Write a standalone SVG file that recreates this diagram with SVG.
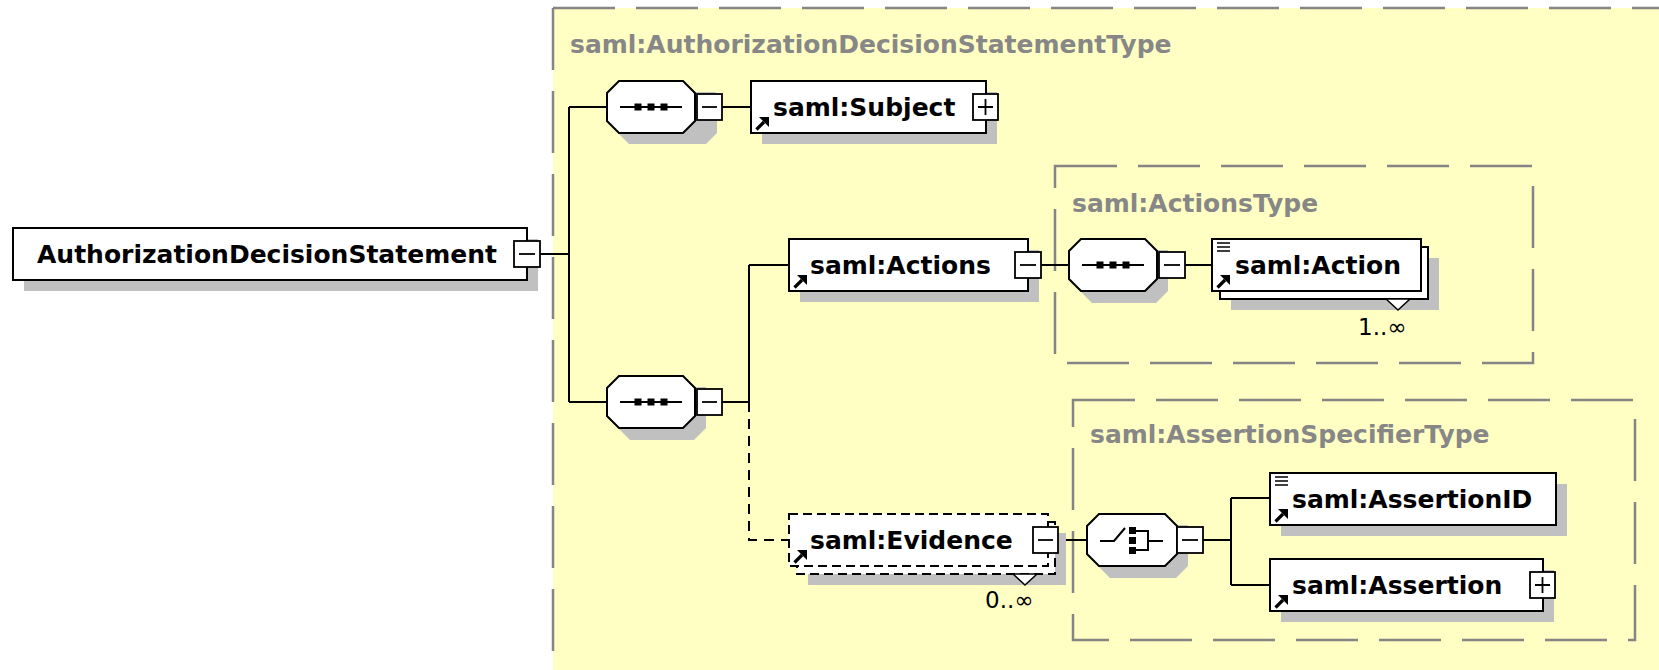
<svg xmlns="http://www.w3.org/2000/svg" width="1659" height="670" viewBox="0 0 1659 670">
<defs>
<style>
.bg{fill:#FFFFC4}
.type{fill:none;stroke:#858585;stroke-width:2.5;stroke-dasharray:62 21}
.title{font-family:"DejaVu Sans",Verdana,sans-serif;font-weight:bold;font-size:25px;fill:#878787}
.lbl{font-family:"DejaVu Sans",Verdana,sans-serif;font-weight:bold;font-size:25px;fill:#000}
.card{font-family:"DejaVu Sans",Verdana,sans-serif;font-size:23px;fill:#000}
.box{fill:#fff;stroke:#000;stroke-width:2}
.dbox{fill:#fff;stroke:#000;stroke-width:2;stroke-dasharray:9 5}
.shadow{fill:#C0C0C0}
.pm{fill:#fff;stroke:#000;stroke-width:1.8}
.ln{fill:none;stroke:#000;stroke-width:1.8}
.conn{fill:none;stroke:#000;stroke-width:2}
.dconn{fill:none;stroke:#000;stroke-width:2;stroke-dasharray:10 7}
.ico{fill:none;stroke:#000;stroke-width:3.2}
</style>
<g id="refArrow">
<path d="M1.5,13.5 L9,6" class="ico"/>
<polygon points="4,1 14,1 14,11" fill="#000"/>
</g>
<g id="simple">
<path d="M0,1 H13 M0,5 H13 M0,9 H13" fill="none" stroke="#000" stroke-width="1.5"/>
</g>
<g id="seqIcon">
<path d="M-31,0 H31" class="conn"/>
<rect x="-16.5" y="-3.5" width="7" height="7" fill="#000"/>
<rect x="-3.5" y="-3.5" width="7" height="7" fill="#000"/>
<rect x="9.5" y="-3.5" width="7" height="7" fill="#000"/>
</g>
</defs>

<rect x="0" y="0" width="1659" height="670" fill="#fff"/>

<g id="type-AuthorizationDecisionStatementType">
<rect x="553" y="8" width="1200" height="700" class="bg"/>
<path d="M553,8 H1659 M553,8 V670" class="type"/>
<text x="570" y="53" class="title">saml:AuthorizationDecisionStatementType</text>
</g>

<g id="type-ActionsType">
<rect x="1055" y="166" width="478" height="197" class="type"/>
<text x="1072" y="212" class="title">saml:ActionsType</text>
</g>

<g id="type-AssertionSpecifierType">
<rect x="1073" y="400" width="562" height="240" class="type"/>
<text x="1090" y="443" class="title">saml:AssertionSpecifierType</text>
</g>

<g id="connectors">
<path d="M540,254 H569 M569,107 V402 M569,107 H607 M569,402 H607" class="conn"/>
<path d="M722,107 H751" class="conn"/>
<path d="M722,402 H749 M749,265 V402 M749,265 H789" class="conn"/>
<path d="M749,402 V540 H789" class="dconn"/>
<path d="M1041,265 H1069" class="conn"/>
<path d="M1185,265 H1212" class="conn"/>
<path d="M1058,540 H1087" class="conn"/>
<path d="M1203,540 H1231 M1231,498 V585 M1231,498 H1270 M1231,585 H1270" class="conn"/>
</g>

<g id="n-AuthorizationDecisionStatement">
<rect x="24" y="239" width="514" height="52" class="shadow"/>
<rect x="13" y="228" width="514" height="52" class="box"/>
<text x="37" y="263" class="lbl">AuthorizationDecisionStatement</text>
<rect x="514" y="241" width="26" height="26" class="pm"/>
<path d="M519,254 H535" class="ln"/>
</g>

<g id="seq-1">
<path d="M630,92 H715 L717,94 L717,133 L706,144 L629,144 L618,133 L618,103 Z" class="shadow"/>
<path d="M619,81 H683 L695,93 V121 L683,133 H619 L607,121 V93 Z" class="box"/>
<use href="#seqIcon" x="651" y="107"/>
<rect x="697" y="94" width="25" height="26" class="pm"/>
<path d="M702,107 H717" class="ln"/>
</g>

<g id="n-Subject">
<rect x="762" y="92" width="235" height="52" class="shadow"/>
<rect x="751" y="81" width="235" height="52" class="box"/>
<use href="#refArrow" x="755" y="116"/>
<text x="773" y="116" class="lbl">saml:Subject</text>
<rect x="973" y="94" width="25" height="26" class="pm"/>
<path d="M978,107 H993 M985.5,99 V115" class="ln"/>
</g>

<g id="seq-2">
<path d="M630,387 H706 L706,387 L706,428 L694,440 L630,440 L618,428 L618,399 Z" class="shadow"/>
<path d="M619,376 H683 L695,388 V416 L683,428 H619 L607,416 V388 Z" class="box"/>
<use href="#seqIcon" x="651" y="402"/>
<rect x="697" y="389" width="25" height="26" class="pm"/>
<path d="M702,402 H717" class="ln"/>
</g>

<g id="n-Actions">
<rect x="800" y="250" width="239" height="52" class="shadow"/>
<rect x="789" y="239" width="239" height="52" class="box"/>
<use href="#refArrow" x="793" y="274"/>
<text x="810" y="274" class="lbl">saml:Actions</text>
<rect x="1015" y="252" width="26" height="26" class="pm"/>
<path d="M1020,265 H1036" class="ln"/>
</g>

<g id="seq-3">
<path d="M1092,250 H1168 V291 L1156,303 L1092,303 L1080,291 L1080,262 Z" class="shadow"/>
<path d="M1081,239 H1145 L1157,251 V279 L1145,291 H1081 L1069,279 V251 Z" class="box"/>
<use href="#seqIcon" x="1113" y="265"/>
<rect x="1159" y="252" width="26" height="26" class="pm"/>
<path d="M1164,265 H1180" class="ln"/>
</g>

<g id="n-Action">
<rect x="1231" y="258" width="208" height="52" class="shadow"/>
<rect x="1220" y="247" width="208" height="52" class="box"/>
<polygon points="1386,299 1398,310 1410,299" fill="#fff" stroke="#000" stroke-width="1.5"/>
<rect x="1212" y="239" width="209" height="52" class="box"/>
<use href="#simple" x="1217" y="242"/>
<use href="#refArrow" x="1216" y="274"/>
<text x="1235" y="274" class="lbl">saml:Action</text>
<text x="1358" y="335" class="card">1..∞</text>
</g>

<g id="n-Evidence">
<rect x="808" y="533" width="258" height="52" class="shadow"/>
<rect x="797" y="522" width="258" height="52" class="dbox"/>
<polygon points="1013,574 1025,585 1037,574" fill="#fff" stroke="#000" stroke-width="1.5"/>
<rect x="789" y="514" width="259" height="52" class="dbox"/>
<use href="#refArrow" x="793" y="549"/>
<text x="810" y="549" class="lbl">saml:Evidence</text>
<rect x="1033" y="527" width="25" height="26" class="pm"/>
<path d="M1038,540 H1053" class="ln"/>
<text x="985" y="608" class="card">0..∞</text>
</g>

<g id="choice-1">
<path d="M1110,525 H1188 V566 L1176,578 L1110,578 L1098,566 L1098,537 Z" class="shadow"/>
<path d="M1099,514 H1165 L1177,526 V554 L1165,566 H1099 L1087,554 V526 Z" class="box"/>
<path d="M1100,541 H1114 L1125,528" class="conn"/>
<rect x="1129" y="527" width="7" height="7" fill="#000"/>
<rect x="1129" y="537" width="7" height="7" fill="#000"/>
<rect x="1129" y="547" width="7" height="7" fill="#000"/>
<path d="M1136,531 H1148 V550 H1136 M1148,541 H1163" class="conn"/>
<rect x="1177" y="527" width="26" height="26" class="pm"/>
<path d="M1182,540 H1198" class="ln"/>
</g>

<g id="n-AssertionID">
<rect x="1281" y="484" width="286" height="52" class="shadow"/>
<rect x="1270" y="473" width="286" height="52" class="box"/>
<use href="#simple" x="1275" y="476"/>
<use href="#refArrow" x="1274" y="508"/>
<text x="1292" y="508" class="lbl">saml:AssertionID</text>
</g>

<g id="n-Assertion">
<rect x="1281" y="570" width="273" height="52" class="shadow"/>
<rect x="1270" y="559" width="273" height="52" class="box"/>
<use href="#refArrow" x="1274" y="594"/>
<text x="1292" y="594" class="lbl">saml:Assertion</text>
<rect x="1530" y="572" width="25" height="26" class="pm"/>
<path d="M1535,585 H1550 M1542.5,577 V593" class="ln"/>
</g>
</svg>
